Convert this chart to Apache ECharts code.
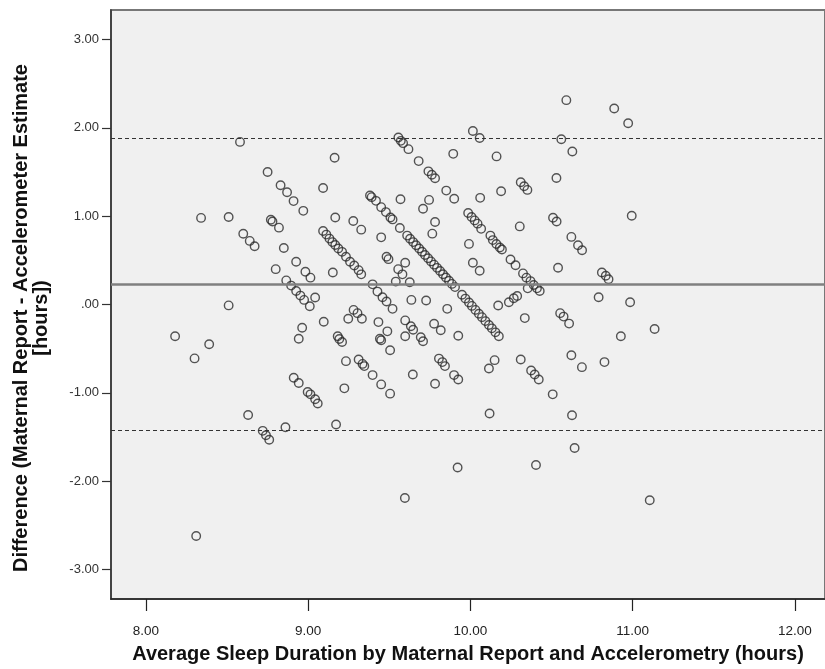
<!DOCTYPE html>
<html>
<head>
<meta charset="utf-8">
<script src="https://cdn.jsdelivr.net/npm/echarts@6/dist/echarts.min.js"></script>
<style>
html,body{margin:0;padding:0;background:#fff;}
#chart{width:825px;height:669px;}
</style>
</head>
<body>
<div id="chart"></div>
<script>
// Average of maternal report and accelerometry (hours)
const meanSleep = [
8.18,8.30,8.39,8.31,8.34,8.51,8.51,8.58,8.60,8.64,8.67,8.63,8.72,8.74,8.76,8.75,8.77,8.78,8.82,8.80,
8.83,8.87,8.91,8.97,8.85,8.86,8.865,8.895,8.926,8.952,8.975,9.010,8.926,8.983,9.014,9.043,8.911,8.942,8.997,9.014,
9.043,9.059,8.963,8.942,9.096,9.092,9.163,9.167,
9.092,9.112,9.131,9.149,9.167,9.186,9.209,9.233,9.258,9.284,9.311,9.327,
9.152,9.182,9.192,9.209,9.172,9.233,9.223,9.278,9.327,9.247,9.280,9.304,9.331,9.311,9.335,9.346,9.397,9.450,9.505,
9.381,9.391,9.418,9.450,9.479,9.507,9.520,9.483,9.495,9.397,9.427,9.458,9.483,9.520,9.433,9.488,9.442,9.450,9.505,
9.450,9.540,9.626,9.555,9.581,9.598,9.556,9.571,9.585,9.618,9.569,9.565,
9.610,9.628,9.647,9.665,9.684,9.702,9.720,9.739,9.757,9.776,9.794,9.813,9.831,9.849,9.868,9.886,9.905,
9.681,9.741,9.762,9.782,9.745,9.708,9.782,9.765,9.851,9.900,9.894,
9.986,10.007,10.026,10.044,10.066,9.991,10.015,10.057,10.060,10.015,10.057,
10.123,10.138,10.160,10.181,10.194,10.161,10.189,10.247,10.278,10.310,10.331,10.351,10.304,
10.324,10.345,10.370,10.390,10.410,10.427,10.353,
10.530,10.509,10.531,10.540,10.560,10.591,10.628,10.622,10.663,10.688,
10.886,10.972,10.994,10.810,10.834,10.851,10.790,10.984,
10.553,10.574,10.608,11.135,10.927,10.622,10.687,10.826,10.626,10.642,11.105,
10.335,10.310,10.374,10.396,10.421,10.507,10.404,10.118,10.149,10.114,9.921,9.596,
9.899,9.925,9.806,9.827,9.843,9.782,9.645,9.598,9.633,9.647,9.598,9.694,9.708,9.776,9.817,9.857,9.925,
9.948,9.969,9.991,10.009,10.031,10.052,10.071,10.092,10.114,10.132,10.154,10.175,
10.171,10.237,10.267,10.288,9.636,9.727
];
// Difference: maternal report - accelerometer estimate (hours)
const diffHours = [
-0.36,-0.61,-0.45,-2.62,0.98,0.99,-0.01,1.84,0.80,0.72,0.66,-1.25,-1.43,-1.48,-1.53,1.50,0.96,0.94,0.87,0.40,
1.35,1.27,1.17,1.06,0.64,-1.39,0.273,0.214,0.153,0.101,0.052,-0.019,0.484,0.371,0.304,0.079,-0.829,-0.889,-0.990,-1.017,
-1.073,-1.121,-0.263,-0.387,-0.196,1.319,1.660,0.985,
0.832,0.791,0.746,0.706,0.673,0.633,0.596,0.540,0.484,0.442,0.389,0.341,
0.363,-0.360,-0.390,-0.424,-1.358,-0.641,-0.949,0.945,0.847,-0.162,-0.061,-0.098,-0.162,-0.623,-0.672,-0.697,-0.799,-0.904,-1.009,
1.233,1.215,1.173,1.102,1.046,0.985,0.963,0.540,0.513,0.228,0.146,0.082,0.034,-0.049,-0.199,-0.304,-0.387,-0.405,-0.517,
0.760,0.259,0.251,0.400,0.341,0.472,1.890,1.852,1.826,1.758,1.192,0.866,
0.780,0.744,0.706,0.670,0.633,0.597,0.561,0.524,0.488,0.451,0.415,0.379,0.342,0.306,0.269,0.233,0.197,
1.623,1.507,1.469,1.429,1.184,1.083,0.934,0.802,1.289,1.196,1.705,
1.035,0.990,0.952,0.915,0.856,0.686,1.964,1.885,1.207,0.472,0.382,
0.780,0.729,0.684,0.645,0.622,1.676,1.282,0.510,0.445,1.384,1.339,1.297,0.884,
0.352,0.304,0.265,0.220,0.183,0.153,0.183,
1.432,0.982,0.940,0.416,1.871,2.313,1.732,0.765,0.670,0.614,
2.219,2.051,1.004,0.363,0.326,0.285,0.082,0.026,
-0.098,-0.137,-0.216,-0.278,-0.360,-0.574,-0.709,-0.652,-1.253,-1.624,-2.216,
-0.154,-0.623,-0.747,-0.792,-0.848,-1.017,-1.816,-1.234,-0.630,-0.724,-1.845,-2.190,
-0.799,-0.848,-0.612,-0.652,-0.697,-0.897,-0.792,-0.180,-0.247,-0.286,-0.360,-0.371,-0.416,-0.218,-0.292,-0.049,-0.353,
0.111,0.067,0.022,-0.016,-0.061,-0.105,-0.143,-0.188,-0.232,-0.270,-0.315,-0.359,
-0.011,0.026,0.071,0.097,0.052,0.045
];
const meanDifference = 0.232;
const upperLimit = 1.878;
const lowerLimit = -1.416;
const xTicks = [8, 9, 10, 11, 12];
const yTicks = [-3, -2, -1, 0, 1, 2, 3];
const xTitle = 'Average Sleep Duration by Maternal Report and Accelerometry (hours)';
const yTitle = 'Difference (Maternal Report - Accelerometer Estimate\n[hours])';

const points = meanSleep.map((x, i) => [x, diffHours[i]]);

function fmt(v) {
  let s = Math.abs(v).toFixed(2);
  if (Math.abs(v) < 1) s = s.replace(/^0/, '');
  return (v < 0 ? '-' : '') + s;
}

const chart = echarts.init(document.getElementById('chart'), null, {renderer: 'canvas'});
chart.setOption({
  animation: false,
  backgroundColor: '#ffffff',
  grid: {
    left: 111, top: 10, width: 716, height: 593,
    show: true, backgroundColor: '#f0f0f0', borderColor: '#777', borderWidth: 2
  },
  graphic: [{
    type: 'text',
    x: 31, y: 318,
    rotation: Math.PI / 2,
    silent: true,
    style: {
      text: yTitle,
      font: 'bold 20px "Liberation Sans", Arial, sans-serif',
      fill: '#111',
      textAlign: 'center',
      textVerticalAlign: 'middle',
      lineHeight: 20
    }
  }],
  xAxis: {
    type: 'value', min: 7.785, max: 12.185,
    name: xTitle,
    nameLocation: 'middle', nameGap: 45,
    nameTextStyle: {fontFamily: '"Liberation Sans", Arial, sans-serif', fontWeight: 'bold', fontSize: 20, color: '#111'},
    axisLine: {show: true, onZero: false, lineStyle: {color: '#222', width: 1.5}},
    axisTick: {show: true, length: 12, customValues: xTicks, lineStyle: {color: '#222', width: 1.2}},
    axisLabel: {customValues: xTicks, formatter: fmt, margin: 25,
      fontFamily: '"Liberation Sans", Arial, sans-serif', fontSize: 13.5, color: '#222'},
    splitLine: {show: false}
  },
  yAxis: {
    type: 'value', min: -3.333, max: 3.333,
    axisLine: {show: true, onZero: false, lineStyle: {color: '#333', width: 1.5}},
    axisTick: {show: true, length: 9, customValues: yTicks, lineStyle: {color: '#333', width: 1.2}},
    axisLabel: {customValues: yTicks, formatter: fmt, margin: 12,
      fontFamily: '"Liberation Sans", Arial, sans-serif', fontSize: 13, color: '#333'},
    splitLine: {show: false}
  },
  series: [{
    type: 'scatter',
    data: points,
    symbol: 'circle',
    symbolSize: 8.5,
    itemStyle: {color: 'rgba(0,0,0,0)', borderColor: '#2a2a2a', borderWidth: 1.4},
    emphasis: {disabled: true},
    markLine: {
      silent: true,
      symbol: ['none', 'none'],
      label: {show: false},
      data: [
        {yAxis: meanDifference, lineStyle: {color: '#808080', width: 2.5, type: 'solid'}},
        {yAxis: upperLimit, lineStyle: {color: '#333', width: 1.2, type: [4, 3]}},
        {yAxis: lowerLimit, lineStyle: {color: '#333', width: 1.2, type: [4, 3]}}
      ]
    }
  }]
});
</script>
</body>
</html>
